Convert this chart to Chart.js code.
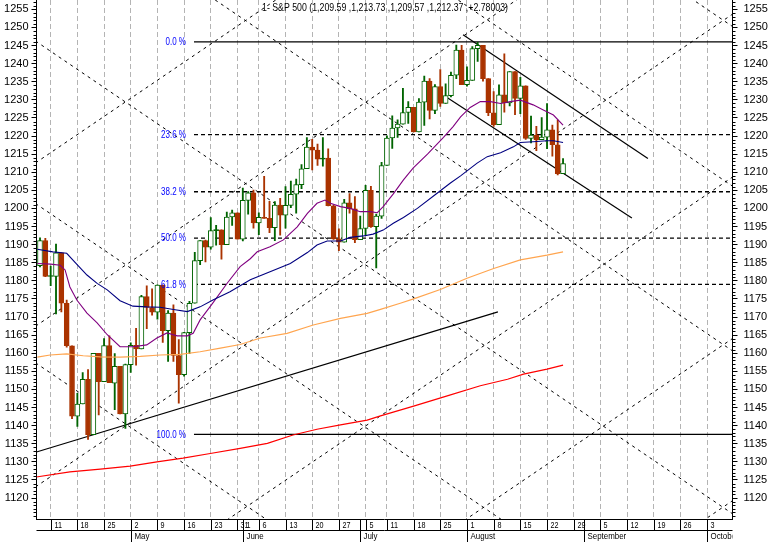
<!DOCTYPE html>
<html>
<head>
<meta charset="utf-8">
<script src="https://cdn.jsdelivr.net/npm/chart.js@4.4.0/dist/chart.umd.min.js"></script>
<style>html,body{margin:0;padding:0;background:#fff}canvas{display:block}</style>
</head>
<body>
<canvas id="c" width="768" height="542"></canvas>
<script>
// ---- S&P 500 daily candles, 7 Apr 2005 (bar 0) .. 25 Aug 2005 (bar 98) ----
const openP = [1184.16,1191.14,1181.20,1181.21,1187.76,1173.79,1162.05,1142.62,1145.98,1152.78,
1137.50,1159.95,1152.12,1162.10,1151.74,1156.38,1143.22,1156.85,1162.16,1161.17,
1175.65,1172.63,1171.35,1178.84,1166.22,1171.11,1159.36,1154.05,1165.69,1173.80,
1185.56,1191.08,1189.28,1193.86,1194.07,1190.01,1197.62,1198.78,1191.50,1202.22,
1204.29,1196.02,1197.51,1197.26,1194.67,1200.93,1198.11,1200.82,1203.91,1206.55,
1210.96,1216.96,1216.10,1213.61,1213.88,1200.73,1191.57,1190.69,1201.57,1199.85,
1191.33,1194.44,1204.99,1194.94,1197.87,1211.86,1219.44,1222.21,1223.29,1226.50,
1227.92,1221.13,1229.35,1235.20,1227.04,1233.68,1229.03,1231.16,1236.79,1243.72,
1234.18,1235.35,1244.12,1245.04,1235.86,1226.42,1223.13,1231.38,1229.13,1237.81,
1230.39,1233.87,1219.34,1220.24,1219.02,1219.71,1221.73,1217.59,1209.59];
const highP = [1191.88,1191.75,1184.07,1190.17,1187.76,1174.67,1162.05,1148.92,1154.67,1155.50,
1159.95,1159.95,1164.05,1164.80,1159.87,1156.38,1156.97,1162.87,1166.89,1176.01,
1178.62,1177.75,1178.87,1178.84,1171.77,1173.37,1163.75,1165.75,1174.35,1187.90,
1191.09,1191.22,1197.44,1195.29,1194.07,1198.95,1199.56,1198.78,1205.64,1204.67,
1205.09,1198.78,1208.85,1201.97,1201.86,1202.79,1206.03,1207.53,1208.08,1212.10,
1219.55,1219.10,1217.80,1219.59,1216.45,1200.90,1194.33,1202.54,1204.07,1203.27,
1197.89,1206.34,1206.11,1198.46,1212.73,1220.03,1225.54,1224.46,1233.16,1229.53,
1227.92,1230.34,1236.56,1235.83,1234.19,1238.36,1234.42,1237.64,1245.15,1245.04,
1239.10,1244.69,1245.86,1245.04,1235.86,1232.28,1234.11,1242.69,1237.81,1237.81,
1236.24,1233.87,1225.49,1222.64,1225.08,1228.96,1223.04,1224.41,1213.73];
const lowP = [1183.81,1181.13,1178.69,1170.85,1171.40,1161.70,1141.92,1139.80,1145.98,1136.15,
1137.50,1142.95,1152.12,1151.83,1144.42,1143.22,1139.19,1154.71,1156.71,1161.17,
1166.77,1170.50,1169.38,1162.98,1157.71,1157.76,1146.18,1153.64,1159.86,1173.80,
1184.49,1185.19,1188.76,1189.87,1185.96,1190.01,1195.28,1191.50,1191.03,1198.42,
1194.55,1192.75,1197.26,1193.33,1191.09,1192.64,1194.51,1200.18,1198.66,1205.47,
1210.96,1210.65,1211.86,1211.69,1200.72,1191.45,1188.30,1190.69,1198.70,1190.51,
1191.33,1192.49,1194.78,1183.55,1197.20,1211.86,1216.60,1219.64,1223.29,1223.50,
1221.13,1221.13,1222.89,1224.70,1226.15,1228.15,1229.03,1230.78,1235.81,1234.18,
1233.80,1235.35,1240.57,1235.15,1225.62,1222.67,1223.13,1226.58,1228.33,1225.87,
1226.20,1219.05,1218.07,1215.93,1219.02,1216.47,1214.44,1209.25,1209.57];
const closeP = [1191.14,1181.20,1181.21,1187.76,1173.79,1162.05,1142.62,1145.98,1152.78,1137.50,
1159.95,1152.12,1162.10,1151.83,1156.38,1143.22,1156.85,1162.16,1161.17,1175.65,
1172.63,1171.35,1178.84,1166.22,1171.11,1159.36,1154.05,1165.69,1173.80,1185.56,
1191.08,1189.28,1193.86,1194.07,1190.01,1197.62,1198.78,1191.50,1202.22,1204.29,
1196.02,1197.51,1197.26,1194.67,1200.93,1198.11,1200.82,1203.91,1206.58,1210.96,
1216.96,1216.10,1213.61,1213.88,1200.73,1191.57,1190.69,1201.57,1199.85,1191.33,
1194.44,1204.99,1194.94,1197.87,1211.86,1219.44,1222.21,1223.29,1226.50,1227.92,
1221.13,1229.35,1235.20,1227.04,1233.68,1229.03,1231.16,1236.79,1243.72,1234.18,
1235.35,1244.12,1245.04,1235.86,1226.42,1223.13,1231.38,1229.13,1237.81,1230.39,
1233.87,1219.34,1220.24,1219.02,1219.71,1221.73,1217.59,1209.59,1212.37];

// ---- moving averages: [bar, value] ----
const maPurple = [[-0.5,1184.8],[2,1184.6],[3.8,1184.3],[4.7,1183.0],[5.6,1178.3],[6.9,1174.7],[8.8,1171.1],[10.7,1168.4],[12.6,1165.1],[15,1161.8],[17.4,1161.8],[20,1162.3],[21.9,1164.2],[23.8,1165.6],[25.7,1164.8],[27.6,1164.8],[28.7,1165.5],[30,1169.2],[32.4,1173.9],[35.1,1179.4],[37.5,1183.9],[39.4,1186.1],[40.7,1188.0],[43.1,1189.4],[45.6,1191.3],[48.2,1194.9],[50.1,1198.6],[51.9,1201.4],[53.4,1202.3],[54.4,1201.4],[56.3,1200.5],[58.1,1200.0],[60,1199.1],[61.9,1199.1],[63.2,1198.8],[64.3,1200.5],[66.2,1204.0],[68.1,1207.9],[69.9,1211.1],[72.6,1215.0],[75.6,1219.6],[77.4,1222.6],[78.8,1225.3],[80.6,1227.9],[82.5,1229.5],[84.4,1229.5],[86.3,1229.0],[88.1,1229.5],[90,1229.9],[92.4,1228.6],[94.3,1227.2],[96.2,1225.8],[98,1223.0]];
const maBlue = [[-0.5,1188.7],[2.4,1188.0],[5,1187.6],[7,1184.4],[8.8,1181.6],[10.7,1179.3],[12.6,1177.5],[15,1174.5],[17.4,1173.0],[20,1172.8],[22.5,1172.7],[25.3,1172.0],[27.6,1171.5],[30,1172.8],[32.4,1174.7],[35.6,1177.0],[39.4,1180.3],[43.1,1182.5],[46.9,1184.8],[50.1,1187.8],[51.9,1189.9],[53.8,1191.0],[56.3,1191.0],[58.1,1192.0],[60.6,1192.4],[62.4,1192.9],[64.3,1194.0],[66.2,1195.9],[68.1,1197.5],[70.7,1200.0],[74.4,1204.2],[76.9,1207.0],[78.8,1209.0],[81.9,1212.5],[83.8,1214.3],[86.3,1215.4],[88.7,1217.0],[90,1218.2],[92.4,1218.4],[95,1218.7],[96.2,1218.7],[98,1218.2]];
const maOrange = [[-0.5,1158.9],[1.9,1159.5],[5,1159.8],[8.1,1159.3],[11.3,1159.0],[15,1158.9],[18.8,1159.1],[22.5,1159.5],[26.3,1159.7],[30,1160.4],[33.8,1161.4],[37.5,1162.4],[41.3,1164.2],[46.3,1165.5],[51.2,1167.8],[56.3,1169.6],[61.3,1171.0],[63.8,1172.1],[67.5,1173.8],[70,1175.0],[75,1177.6],[80,1180.7],[85,1183.4],[90,1185.8],[95,1187.1],[98,1188.0]];
const maRed = [[-0.7,1125.8],[5.6,1127.2],[11.3,1128.0],[16.9,1128.8],[21.9,1130.0],[26.8,1131.0],[31.9,1132.3],[37.5,1133.7],[42.6,1135.1],[47.4,1137.4],[51.9,1139.0],[56.3,1140.2],[61.3,1141.5],[63.8,1142.7],[70,1145.4],[76.3,1148.2],[82.5,1151.0],[87.6,1152.8],[90.6,1154.2],[95,1155.6],[98,1156.7]];

// ---- Fibonacci retracement ----
const fibLevels = [1246.0, 1220.4, 1204.6, 1191.8, 1179.0, 1137.6];
const fibLabels = ['0.0 %', '23.6 %', '38.2 %', '50.0 %', '61.8 %', '100.0 %'];
const fibSolid  = [true, false, false, false, false, true];
const fibStartBar = 28.85;

// ---- trend lines [bar, price] pairs ----
const trendUp     = [[-0.66,1132.7],[85.8,1171.4]];
const channelHigh = [[79.26,1248.0],[113.9,1213.8]];
const channelLow  = [[75.9,1231.0],[110.9,1197.35]];

// ---- dashed 1x1 lattice: price intercepts at bar 0 ----
const gannUp   = [989.5, 1034.3, 1078.9, 1123.9, 1168.3, 1213.4];
const gannDown = [1156.5, 1200.5, 1245.4, 1290.4, 1335.9, 1380.0];

// ---- axes ----
const xMin = -0.656, xMax = 129.75;
const yMin = 1114.2, yMax = 1257.57;
const yTicks = [1120,1125,1130,1135,1140,1145,1150,1155,1160,1165,1170,1175,1180,1185,1190,1195,1200,1205,1210,1215,1220,1225,1230,1235,1240,1245,1250,1255];
const gridBars  = [2,7,12,17,22,27,32,37,41,46,51,56,61,65,70,75,80,85,90,95,100,105,110,115,120,125];
const dayBars   = [2,7,12,17,22,27,32,37,38,41,46,51,56,61,65,70,75,80,85,90,95,100,105,110,115,120,125];
const dayLabels = ['11','18','25','2','9','16','23','31','1','6','13','20','27','5','11','18','25','1','8','15','22','29','5','12','19','26','3'];
const monthBars   = [17, 38, 60, 80, 102, 125];
const monthLabels = ['May','June','July','August','September','October'];
const titleText = '1- S&P 500 (1,209.59 ,1,213.73 ,1,209.57 ,1,212.37 ,+2.78003)';

const UP = '#006400', DOWN = '#AA3300';
const FONT = '"Liberation Sans", Arial, sans-serif';

const isUp = i => closeP[i] >= openP[i];
const pairs = arr => arr.map(p => ({x: p[0], y: p[1]}));

function lineDs(data, color, width, dash, order) {
  return {type:'line', data, yAxisID:'y', borderColor:color, borderWidth:width, borderDash:dash,
          pointRadius:0, fill:false, tension:0, order};
}

const datasets = [];
gannUp.forEach(c => datasets.push(lineDs([{x:-3, y:c-3}, {x:135, y:c+135}], '#000', 1, [3,4], 60)));
gannDown.forEach(d => datasets.push(lineDs([{x:-3, y:d+3}, {x:135, y:d-135}], '#000', 1, [3,4], 60)));
fibLevels.forEach((lv, k) => datasets.push(lineDs([{x:fibStartBar, y:lv}, {x:xMax, y:lv}], '#000', 1.3, fibSolid[k] ? [] : [4,3], 50)));
[trendUp, channelHigh, channelLow].forEach(t => datasets.push(lineDs(pairs(t), '#000', 1.2, [], 40)));

datasets.push({type:'bar', data: openP.map((o,i) => ({x:i, y:[lowP[i], highP[i]]})), yAxisID:'y',
  grouped:false, barThickness:1.2, borderWidth:0,
  backgroundColor: c => isUp(c.dataIndex) ? UP : DOWN, order:30});
datasets.push({type:'bar', data: openP.map((o,i) => ({x:i, y:[o, closeP[i]]})), yAxisID:'y',
  grouped:false, barThickness:5, minBarLength:1, borderWidth:1, borderSkipped:false,
  borderColor: c => isUp(c.dataIndex) ? UP : DOWN,
  backgroundColor: c => { const i = c.dataIndex; if (!isUp(i)) return DOWN; return Math.abs(closeP[i]-openP[i]) < 0.5 ? UP : '#ffffff'; },
  order:20});

datasets.push(lineDs(pairs(maRed), '#FF0000', 1.2, [], 5));
datasets.push(lineDs(pairs(maOrange), '#FFA54F', 1.2, [], 5));
datasets.push(lineDs(pairs(maBlue), '#000080', 1.1, [], 5));
datasets.push(lineDs(pairs(maPurple), '#800080', 1.1, [], 5));

function yAxis(pos, pad, width) {
  return {
    type:'linear', position:pos, min:yMin, max:yMax,
    afterBuildTicks: s => { s.ticks = yTicks.map(v => ({value:v})); },
    afterFit: s => { s.width = width; s.paddingTop = 0; s.paddingBottom = 0; },
    ticks: {callback: v => String(v), autoSkip:false, padding:pad, color:'#000', font:{family:FONT, size:11}},
    grid: {drawOnChartArea:false, drawTicks:true, tickLength:5, tickColor:'#000', color:'#000'},
    border: {display:true, color:'#000', width:1}
  };
}

const overlay = {
  id:'overlay',
  afterDatasetsDraw(chart) {
    const {ctx, scales:{x, y}} = chart;
    ctx.save();
    ctx.font = '10px ' + FONT;
    ctx.fillStyle = '#0000ff';
    ctx.textAlign = 'right';
    ctx.textBaseline = 'middle';
    const lx = x.getPixelForValue(fibStartBar) - 8;
    fibLevels.forEach((lv, k) => {
      const t = fibLabels[k];
      ctx.fillText(t, lx, y.getPixelForValue(lv) + 0.5, ctx.measureText(t).width * 0.8);
    });
    ctx.font = '11px ' + FONT;
    ctx.fillStyle = '#000';
    ctx.textAlign = 'left';
    ctx.fillText(titleText, 262, 8, 246);
    ctx.restore();
  },
  afterDraw(chart) {
    const {ctx, chartArea:a, scales:{x, y}} = chart;
    ctx.save();
    ctx.strokeStyle = '#000';
    ctx.lineWidth = 1;
    ctx.beginPath();
    for (let v = Math.ceil(yMin); v <= Math.floor(yMax); v++) {
      if (v % 5 === 0 && v >= 1120) continue;
      const py = Math.round(y.getPixelForValue(v)) + 0.5;
      ctx.moveTo(a.right, py); ctx.lineTo(a.right + 3, py);
      ctx.moveTo(a.left - 3, py); ctx.lineTo(a.left, py);
    }
    ctx.stroke();
    const bot = a.bottom;
    ctx.beginPath();
    ctx.moveTo(a.left, bot + 11.5); ctx.lineTo(a.right, bot + 11.5);
    ctx.stroke();
    ctx.beginPath();
    ctx.rect(a.left, bot, a.right - a.left, 30);
    ctx.clip();
    ctx.fillStyle = '#000';
    ctx.textAlign = 'left';
    ctx.textBaseline = 'middle';
    ctx.font = '9px ' + FONT;
    ctx.beginPath();
    dayBars.forEach((d, k) => {
      const px = Math.round(x.getPixelForValue(d)) + 0.5;
      ctx.moveTo(px, bot); ctx.lineTo(px, bot + 12);
      const t = dayLabels[k];
      ctx.fillText(t, px + 3, bot + 6.5, ctx.measureText(t).width * 0.8);
    });
    monthBars.forEach((m, k) => {
      const px = Math.round(x.getPixelForValue(m)) + 0.5;
      ctx.moveTo(px, bot); ctx.lineTo(px, bot + 24);
      const t = monthLabels[k];
      ctx.fillText(t, px + 3, bot + 17.5, ctx.measureText(t).width * 0.88);
    });
    ctx.stroke();
    ctx.restore();
  }
};

new Chart(document.getElementById('c'), {
  type:'bar',
  data:{datasets},
  options:{
    responsive:false, animation:false, events:[],
    layout:{padding:0},
    plugins:{legend:{display:false}, tooltip:{enabled:false}},
    scales:{
      x:{type:'linear', min:xMin, max:xMax, offset:false,
         afterBuildTicks: s => { s.ticks = gridBars.map(v => ({value:v})); },
         afterFit: s => { s.height = 23; s.paddingLeft = 0; s.paddingRight = 0; },
         ticks:{display:false},
         grid:{offset:false, color:'#b4b4b4', lineWidth:1, drawTicks:false, drawOnChartArea:true},
         border:{display:true, color:'#000', width:1, dash:[5,3]}},
      y: yAxis('right', 6, 35.5),
      y2: yAxis('left', 3, 36.5)
    }
  },
  plugins:[overlay]
});
</script>
</body>
</html>
